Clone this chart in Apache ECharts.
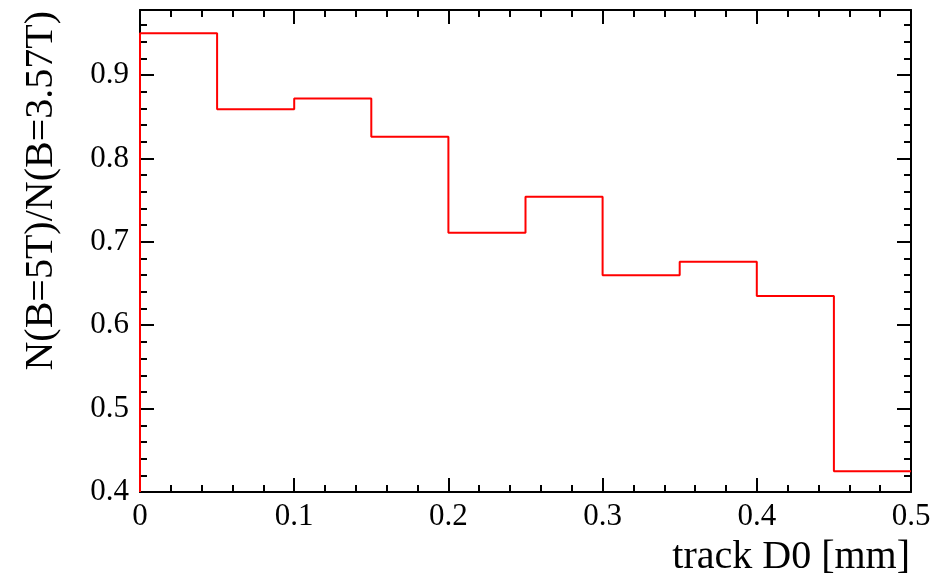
<!DOCTYPE html>
<html>
<head>
<meta charset="utf-8">
<script src="https://cdn.jsdelivr.net/npm/echarts@6/dist/echarts.min.js"></script>
<style>
  html, body { margin: 0; padding: 0; background: #fff; }
  #chart { width: 948px; height: 584px; }
</style>
</head>
<body>
<div id="chart"></div>
<script>
// bin lower edges of track D0 [mm], bin width 0.05
const binEdges = [0, 0.05, 0.1, 0.15, 0.2, 0.25, 0.3, 0.35, 0.4, 0.45];
const binWidth = 0.05;
// N(B=5T)/N(B=3.57T) per bin
const ratio = [0.950, 0.859, 0.872, 0.826, 0.711, 0.754, 0.660, 0.676, 0.635, 0.425];

const xMin = 0, xMax = 0.5;
const yMin = 0.4, yMax = 0.978;

// outline of the histogram: up from the floor, then one step per bin
const outline = [[binEdges[0], yMin]];
binEdges.forEach((x, i) => outline.push([x, ratio[i]]));
outline.push([binEdges[binEdges.length - 1] + binWidth, ratio[ratio.length - 1]]);

const font = "'Liberation Serif', 'DejaVu Serif', serif";
const black = '#000';

const frameLine = { show: true, lineStyle: { color: black, width: 2 } };

function xAxisOf(pos, labels) {
  return {
    type: 'value',
    position: pos,
    min: xMin,
    max: xMax,
    interval: 0.1,
    axisLine: frameLine,
    axisTick: { show: true, inside: true, length: 14, lineStyle: { color: black, width: 2 } },
    minorTick: { show: true, splitNumber: 5, length: 7, lineStyle: { color: black, width: 2 } },
    axisLabel: { show: labels, color: black, fontFamily: font, fontSize: 31, margin: 9 },
    splitLine: { show: false },
    minorSplitLine: { show: false },
  };
}

function yAxisOf(pos, step, len, labels, line) {
  return {
    type: 'value',
    position: pos,
    min: yMin,
    max: yMax,
    interval: step,
    axisLine: line ? frameLine : { show: false },
    axisTick: { show: true, inside: true, length: len, lineStyle: { color: black, width: 2 } },
    axisLabel: {
      show: labels, showMaxLabel: false, color: black, fontFamily: font, fontSize: 31, margin: 11,
    },
    splitLine: { show: false },
  };
}

const chart = echarts.init(document.getElementById('chart'));
chart.setOption({
  animation: false,
  backgroundColor: '#fff',
  grid: { left: 140, right: 37, top: 10, bottom: 92 },
  xAxis: [xAxisOf('bottom', true), xAxisOf('top', false)],
  yAxis: [
    yAxisOf('left', 0.1, 14, true, true),
    yAxisOf('left', 0.02, 7, false, false),
    yAxisOf('right', 0.1, 14, false, true),
    yAxisOf('right', 0.02, 7, false, false),
  ],
  graphic: [
    {
      type: 'text',
      x: 910,
      y: 557,
      style: {
        text: 'track D0 [mm]',
        fontFamily: font,
        fontSize: 40,
        fill: black,
        textAlign: 'right',
        textVerticalAlign: 'middle',
      },
    },
    {
      type: 'text',
      x: 41,
      y: 11,
      rotation: Math.PI / 2,
      style: {
        text: 'N(B=5T)/N(B=3.57T)',
        fontFamily: font,
        fontSize: 40,
        fill: black,
        textAlign: 'right',
        textVerticalAlign: 'middle',
      },
    },
  ],
  series: [
    {
      type: 'line',
      xAxisIndex: 0,
      yAxisIndex: 0,
      step: 'end',
      data: outline,
      symbol: 'none',
      clip: false,
      z: 5,
      lineStyle: { color: '#ff0000', width: 2 },
    },
  ],
});
</script>
</body>
</html>
